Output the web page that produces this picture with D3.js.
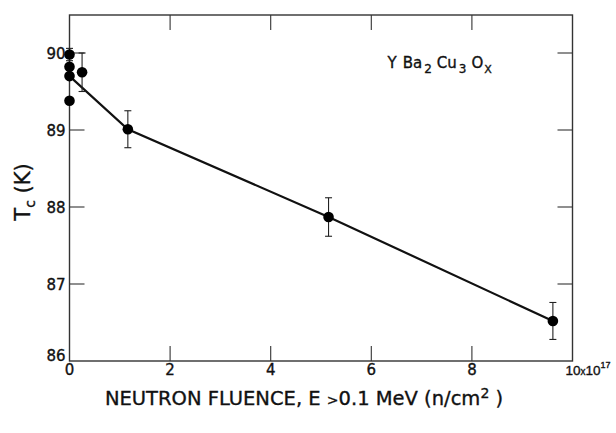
<!DOCTYPE html>
<html>
<head>
<meta charset="utf-8">
<script src="https://cdn.jsdelivr.net/npm/d3@7"></script>
<style>
  body { margin: 0; background: #fff; }
  svg text { font-family: "DejaVu Sans", "Liberation Sans", Arial, sans-serif; fill: #111; stroke: #111; stroke-width: 0.35px; }
  svg text.exp { font-family: "Liberation Sans", Arial, sans-serif; }
</style>
</head>
<body>
<div id="chart"></div>
<script>
"use strict"

// fluence in units of 1e17 n/cm^2, Tc in K
let fluence = [0, 0, 0, 0, 0.25, 1.16, 5.15, 9.61];
let tc      = [89.98, 89.82, 89.70, 89.38, 89.75, 89.01, 87.87, 86.52];
let tcErr   = [0.08, 0, 0, 0, 0.25, 0.24, 0.25, 0.24];

// points joined by the line
let lineX = [0, 1.16, 5.15, 9.61];
let lineY = [89.70, 89.01, 87.87, 86.52];

let xTicks = [0, 2, 4, 6, 8];
let yTicks = [86, 87, 88, 89, 90];

let totalWidth = 616, totalHeight = 433;
let margin = {left: 69.5, right: 43.5, top: 15, bottom: 72};
let width = totalWidth - margin.left - margin.right;
let height = totalHeight - margin.top - margin.bottom;

let xScale = d3.scaleLinear().domain([0, 10]).range([0, width]);
let yScale = d3.scaleLinear().domain([86, 90]).range([height, height - 4 * 77]);

let svg = d3.select("#chart").append("svg")
	.attr("width", totalWidth)
	.attr("height", totalHeight);

let g = svg.append("g")
	.attr("transform", `translate(${margin.left},${margin.top})`);

// frame
g.append("rect")
	.attr("x", 0).attr("y", 0)
	.attr("width", width).attr("height", height)
	.attr("fill", "none")
	.attr("stroke", "#333")
	.attr("stroke-width", 1.4);

let tickLen = 15;

// inward ticks on all four sides
g.append("g").selectAll("line")
	.data(xTicks.filter(d => d > 0))
	.enter().append("line")
		.attr("x1", d => xScale(d)).attr("x2", d => xScale(d))
		.attr("y1", height).attr("y2", height - tickLen)
		.attr("stroke", "#333").attr("stroke-width", 1.1);

g.append("g").selectAll("line")
	.data(xTicks.filter(d => d > 0))
	.enter().append("line")
		.attr("x1", d => xScale(d)).attr("x2", d => xScale(d))
		.attr("y1", 0).attr("y2", tickLen)
		.attr("stroke", "#333").attr("stroke-width", 1.1);

g.append("g").selectAll("line")
	.data(yTicks.filter(d => d > 86))
	.enter().append("line")
		.attr("x1", 0).attr("x2", tickLen)
		.attr("y1", d => yScale(d)).attr("y2", d => yScale(d))
		.attr("stroke", "#333").attr("stroke-width", 1.1);

g.append("g").selectAll("line")
	.data(yTicks.filter(d => d > 86))
	.enter().append("line")
		.attr("x1", width).attr("x2", width - tickLen)
		.attr("y1", d => yScale(d)).attr("y2", d => yScale(d))
		.attr("stroke", "#333").attr("stroke-width", 1.1);

// tick labels
g.append("g").selectAll("text")
	.data(xTicks)
	.enter().append("text")
		.attr("x", d => xScale(d))
		.attr("y", height + 14)
		.attr("text-anchor", "middle")
		.style("font-size", "15px")
		.text(d => d);

// "10 x 10^17" at the right end of the axis
let lastLabel = g.append("text")
	.attr("class", "exp")
	.attr("x", width - 7)
	.attr("y", height + 14)
	.style("font-size", "13.5px");
lastLabel.append("tspan").text("10");
lastLabel.append("tspan").style("font-size", "10px").text("x");
lastLabel.append("tspan").text("10");
lastLabel.append("tspan").attr("dy", -7).style("font-size", "9px").text("17");

g.append("g").selectAll("text")
	.data(yTicks)
	.enter().append("text")
		.attr("x", -4)
		.attr("y", d => yScale(d) + (d == 86 ? 0 : 5.5))
		.attr("text-anchor", "end")
		.style("font-size", "15px")
		.text(d => d);

// connecting line
g.append("path")
	.datum(lineX.map((d, i) => [d, lineY[i]]))
	.attr("fill", "none")
	.attr("stroke", "#111")
	.attr("stroke-width", 2.2)
	.attr("d", d3.line().x(d => xScale(d[0])).y(d => yScale(d[1])));

// error bars
let pts = fluence.map((d, i) => ({x: d, y: tc[i], e: tcErr[i]})).filter(d => d.e > 0);
let capW = 3.5;
let eb = g.append("g").attr("stroke", "#222").attr("stroke-width", 1.1);
eb.selectAll(".bar").data(pts).enter().append("line")
	.attr("x1", d => xScale(d.x)).attr("x2", d => xScale(d.x))
	.attr("y1", d => yScale(d.y + d.e)).attr("y2", d => yScale(d.y - d.e));
eb.selectAll(".capTop").data(pts).enter().append("line")
	.attr("x1", d => xScale(d.x) - capW).attr("x2", d => xScale(d.x) + capW)
	.attr("y1", d => yScale(d.y + d.e)).attr("y2", d => yScale(d.y + d.e));
eb.selectAll(".capBot").data(pts).enter().append("line")
	.attr("x1", d => xScale(d.x) - capW).attr("x2", d => xScale(d.x) + capW)
	.attr("y1", d => yScale(d.y - d.e)).attr("y2", d => yScale(d.y - d.e));

// points
g.append("g").selectAll("circle")
	.data(fluence.map((d, i) => ({x: d, y: tc[i]})))
	.enter().append("circle")
		.attr("cx", d => xScale(d.x))
		.attr("cy", d => yScale(d.y))
		.attr("r", 5.3)
		.attr("fill", "#000");

// compound label
let comp = g.append("text")
	.attr("x", 318)
	.attr("y", 53)
	.style("font-size", "15px");
comp.append("tspan").text("Y");
comp.append("tspan").attr("dx", 6).text("Ba");
comp.append("tspan").attr("dy", 5).attr("dx", 2).style("font-size", "12px").text("2");
comp.append("tspan").attr("dy", -5).attr("dx", 5).text("Cu");
comp.append("tspan").attr("dy", 5).attr("dx", 2).style("font-size", "12px").text("3");
comp.append("tspan").attr("dy", -5).attr("dx", 5).text("O");
comp.append("tspan").attr("dy", 5).attr("dx", 1).style("font-size", "11px").text("X");

// axis titles
let yTitle = svg.append("text")
	.attr("transform", `translate(30, 192) rotate(-90)`)
	.attr("text-anchor", "middle")
	.style("font-size", "21px");
yTitle.append("tspan").text("T");
yTitle.append("tspan").attr("dy", 5).style("font-size", "14px").text("c");
yTitle.append("tspan").attr("dy", -5).text(" (K)");

let xTitle = svg.append("text")
	.attr("x", 304)
	.attr("y", 405)
	.attr("text-anchor", "middle")
	.style("font-size", "19.5px");
xTitle.append("tspan").text("NEUTRON FLUENCE, E ");
xTitle.append("tspan").style("font-size", "14px").text(">");
xTitle.append("tspan").text("0.1 MeV (n/cm");
xTitle.append("tspan").attr("dy", -7).style("font-size", "14px").text("2");
xTitle.append("tspan").attr("dy", 7).text(" )");
</script>
</body>
</html>
